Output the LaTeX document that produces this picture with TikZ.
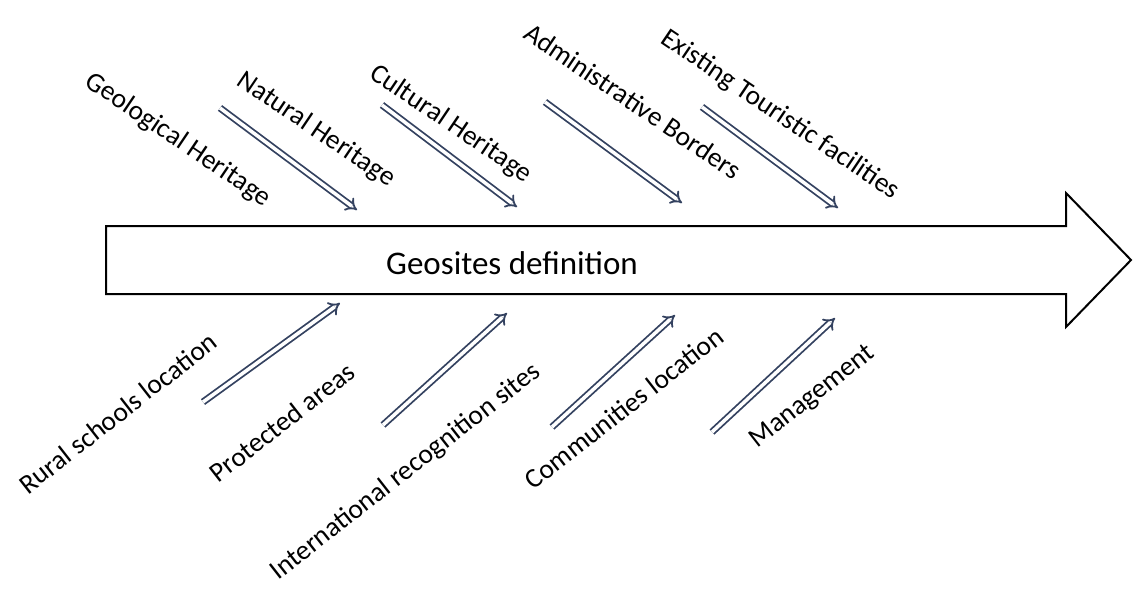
\documentclass[tikz,border=0pt]{standalone}
\usepackage{fontspec}
\setmainfont{Carlito}
\usetikzlibrary{arrows.meta}
\definecolor{arrowcol}{RGB}{52,66,96}
\tikzset{
    lbl/.style={font=\fontsize{27.5}{31}\selectfont, inner sep=0pt},
    lblup/.style={lbl, rotate=-34},
    lbldown/.style={lbl, rotate=38},
    pointer/.style={draw=arrowcol, double=white, double distance=3.5pt, line width=1.8pt, -{Implies}},
}

\begin{document}
\begin{tikzpicture}[x=1pt,y=-1pt]
            \useasboundingbox (0,0) rectangle (1134,589);

            % Main arrow
            \draw[line width=2pt] (106,226) -- (1066,226) -- (1066,193) -- (1131,260)
                -- (1066,327) -- (1066,294) -- (106,294) -- cycle;
            \node[lbl, font=\fontsize{33}{37}\selectfont] (main) at (512,263) {Geosites definition};

            % Upper labels
            \node[lblup] (geo) at (178,140) {Geological Heritage};
            \node[lblup] (nat) at (316,130) {Natural Heritage};
            \node[lblup] (cul) at (451,124) {Cultural Heritage};
            \node[lblup] (adm) at (633,101) {Administrative Borders};
            \node[lblup] (exi) at (780,115) {Existing Touristic facilities};

            % Lower labels
            \node[lbldown] (rur) at (118,413) {Rural schools location};
            \node[lbldown] (pro) at (282,422) {Protected areas};
            \node[lbldown] (int) at (406,472) {International recognition sites};
            \node[lbldown] (com) at (624,408) {Communities location};
            \node[lbldown] (man) at (813,397) {Management};

            % Arrow ends
            \coordinate (up1-s) at (220,108);   \coordinate (up1-e) at (357,210);
            \coordinate (up2-s) at (382,105);   \coordinate (up2-e) at (517,207);
            \coordinate (up3-s) at (545,102);   \coordinate (up3-e) at (682,203);
            \coordinate (up4-s) at (702,107);   \coordinate (up4-e) at (838,208);
            \coordinate (dn1-s) at (203,402);   \coordinate (dn1-e) at (340,303);
            \coordinate (dn2-s) at (383,425);   \coordinate (dn2-e) at (507,313);
            \coordinate (dn3-s) at (552,427);   \coordinate (dn3-e) at (675,315);
            \coordinate (dn4-s) at (712,432);   \coordinate (dn4-e) at (835,318);

            \draw[pointer] (up1-s) -- (up1-e);
            \draw[pointer] (up2-s) -- (up2-e);
            \draw[pointer] (up3-s) -- (up3-e);
            \draw[pointer] (up4-s) -- (up4-e);
            \draw[pointer] (dn1-s) -- (dn1-e);
            \draw[pointer] (dn2-s) -- (dn2-e);
            \draw[pointer] (dn3-s) -- (dn3-e);
            \draw[pointer] (dn4-s) -- (dn4-e);
\end{tikzpicture}
\end{document}
